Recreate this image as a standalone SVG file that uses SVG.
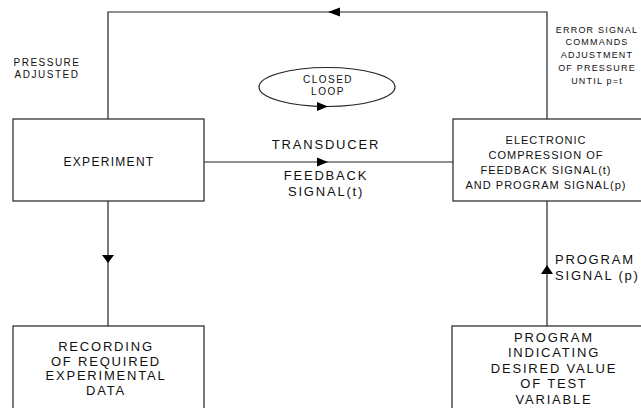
<svg xmlns="http://www.w3.org/2000/svg" width="641" height="408" viewBox="0 0 641 408">
<style>
.box{fill:#fff;stroke:#222;stroke-width:1.2}
.ln{fill:none;stroke:#222;stroke-width:1.2}
.ah{fill:#000;stroke:none}
text{font-family:"Liberation Sans",Arial,sans-serif;fill:#111;text-anchor:middle}
.s9{font-size:9px;letter-spacing:1.2px}
.s10{font-size:10px;letter-spacing:1.5px}
.s11{font-size:11px;letter-spacing:1px}
.s12{font-size:12px;letter-spacing:1.3px}
.s13{font-size:13px;letter-spacing:1.8px}
</style>
<rect width="641" height="408" fill="#fff"/>
<g id="connectors">
  <path class="ln" d="M108,119 V12 H547 V119"/>
  <polygon class="ah" points="328,12 340,7.5 340,16.5"/>
  <path class="ln" d="M204,162 H453"/>
  <polygon class="ah" points="328,162 317,157.5 317,166.5"/>
  <path class="ln" d="M108,201 V326"/>
  <polygon class="ah" points="108,263 102,255 114,255"/>
  <path class="ln" d="M547,201 V326"/>
  <polygon class="ah" points="547,265 541,274 553,274"/>
  <text class="s13" x="326" y="149">TRANSDUCER</text>
  <text class="s13" x="326" y="180">FEEDBACK</text>
  <text class="s13" x="326" y="196">SIGNAL(t)</text>
  <text class="s13" x="555" y="264" style="text-anchor:start">PROGRAM</text>
  <text class="s13" x="555" y="280" style="text-anchor:start">SIGNAL (p)</text>
  <text class="s10" x="47" y="66">PRESSURE</text>
  <text class="s10" x="47" y="78">ADJUSTED</text>
  <text class="s9" x="597" y="33">ERROR SIGNAL</text>
  <text class="s9" x="597" y="45">COMMANDS</text>
  <text class="s9" x="597" y="58">ADJUSTMENT</text>
  <text class="s9" x="597" y="71">OF PRESSURE</text>
  <text class="s9" x="597" y="84">UNTIL p=t</text>
</g>
<g id="closed-loop">
  <ellipse class="ln" cx="327" cy="87" rx="68" ry="19.5"/>
  <polygon class="ah" points="328,106.5 317,102 317,111"/>
  <text class="s10" x="328" y="83">CLOSED</text>
  <text class="s10" x="328" y="95">LOOP</text>
</g>
<g id="experiment">
  <rect class="box" x="13" y="119" width="191" height="82"/>
  <text class="s12" x="109" y="166">EXPERIMENT</text>
</g>
<g id="comparison">
  <rect class="box" x="453" y="119" width="192" height="82"/>
  <text class="s11" x="546" y="144">ELECTRONIC</text>
  <text class="s11" x="546" y="159">COMPRESSION OF</text>
  <text class="s11" x="546" y="174">FEEDBACK SIGNAL(t)</text>
  <text class="s11" x="546" y="189">AND PROGRAM SIGNAL(p)</text>
</g>
<g id="recording">
  <rect class="box" x="13" y="326" width="191" height="90"/>
  <text class="s13" x="106" y="351">RECORDING</text>
  <text class="s13" x="106" y="366">OF REQUIRED</text>
  <text class="s13" x="106" y="380">EXPERIMENTAL</text>
  <text class="s13" x="106" y="395">DATA</text>
</g>
<g id="program">
  <rect class="box" x="452" y="326" width="193" height="90"/>
  <text class="s13" x="554" y="342">PROGRAM</text>
  <text class="s13" x="554" y="357">INDICATING</text>
  <text class="s13" x="554" y="373">DESIRED VALUE</text>
  <text class="s13" x="554" y="388">OF TEST</text>
  <text class="s13" x="554" y="404">VARIABLE</text>
</g>
</svg>
